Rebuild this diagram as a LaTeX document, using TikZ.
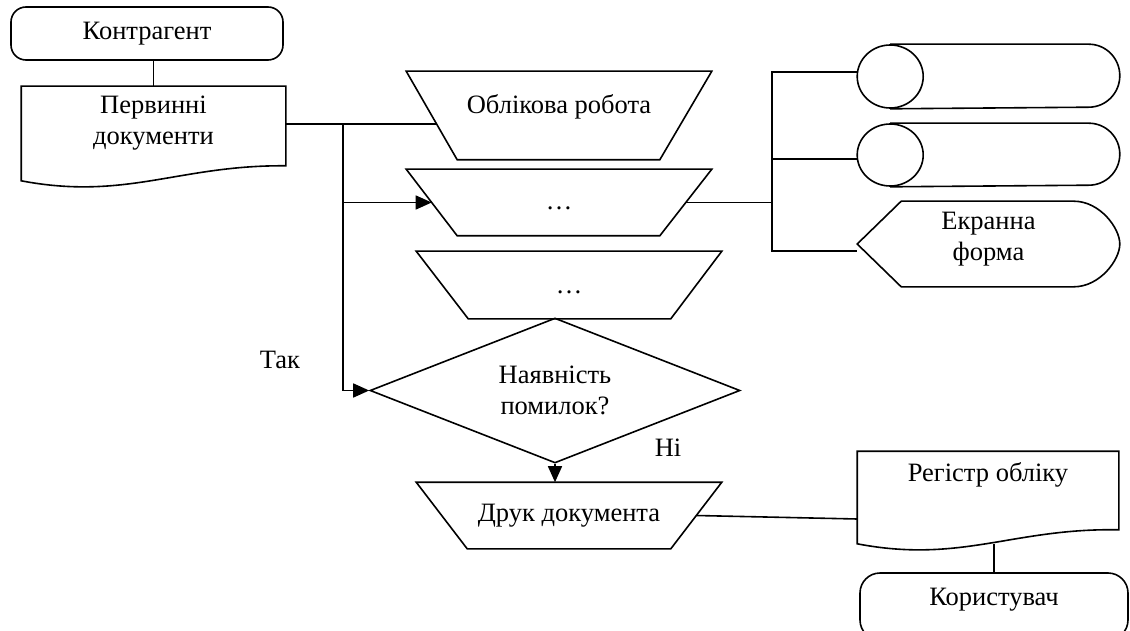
\documentclass[tikz,border=0pt]{standalone}
\usepackage{fontspec}
\setmainfont{Liberation Serif}
\usetikzlibrary{shapes.geometric,arrows.meta}

\begin{document}
\begin{tikzpicture}[x=1pt,y=-1pt,line width=1.6pt,font=\fontsize{26.5}{31}\selectfont]
	\tikzstyle{term}=[rectangle, rounded corners=15pt, draw]
	\tikzstyle{blank}=[rectangle, inner sep=0pt]
	\tikzstyle{manual}=[rectangle, inner sep=0pt, minimum width=304pt]
	\tikzstyle{decision}=[diamond, draw, minimum width=370pt, minimum height=145pt, shape aspect=2.55, inner sep=0pt, align=center]
	\tikzstyle{connect}=[-{Triangle[length=16pt,width=14pt]}]
	\useasboundingbox (0,0) rectangle (1130,631);
	\clip (0,0) rectangle (1130,631);
	\node[term, minimum width=272pt, minimum height=53pt] (kg) at (147,33.5) {Контрагент};
	\node[blank, minimum width=263pt, minimum height=93pt] (pd) at (153.5,133.5) [label={[align=center, yshift=10pt]center:Первинні\\документи}] { };
	\node[manual, minimum height=87pt] (t1) at (559,115.5) [label={[yshift=8.5pt]center:Облікова робота}] { };
	\node[manual, minimum height=65pt] (t2) at (559,202.5) [label={[yshift=-6pt]center:\dots}] { };
	\node[manual, minimum height=66pt] (t3) at (569,285) [label={[yshift=-7pt]center:\dots}] { };
	\node[decision] (dm) at (555,390.5) {Наявність\\помилок?};
	\node[manual, minimum height=65pt] (dr) at (569,515.5) {Друк документа};
	\node[blank, minimum width=261pt, minimum height=63pt] (c1) at (988.5,76.5) { };
	\node[blank, minimum width=261pt, minimum height=62pt] (c2) at (988.5,155) { };
	\node[blank, minimum width=261pt, minimum height=84pt] (sc) at (988.5,244) [label={[align=center, yshift=5pt]center:Екранна\\форма}] { };
	\node[blank, minimum width=260pt, minimum height=91pt] (rg) at (988,497.5) [label={[yshift=23pt]center:Регістр обліку}] { };
	\node[term, rounded corners=20pt, minimum width=268pt, minimum height=67pt] (ku) at (994,606.5) [label={[yshift=7pt]center:Користувач}] { };
	\node (yes) at (280,360) {Так};
	\node (no) at (668,448) {Ні};
	% manual operations
	\draw (t1.north west) -- (t1.north east) -- ([xshift=-52pt]t1.south east) -- ([xshift=51pt]t1.south west) -- cycle;
	\draw (t2.north west) -- (t2.north east) -- ([xshift=-52pt]t2.south east) -- ([xshift=51pt]t2.south west) -- cycle;
	\draw (t3.north west) -- (t3.north east) -- ([xshift=-51pt]t3.south east) -- ([xshift=52pt]t3.south west) -- cycle;
	\draw (dr.north west) -- (dr.north east) -- ([xshift=-51pt]dr.south east) -- ([xshift=51pt]dr.south west) -- cycle;
	% document shapes
	\draw (pd.south west) -- (pd.north west) -- (pd.north east) -- ([yshift=15pt]pd.south east) .. controls ([xshift=158pt,yshift=16pt]pd.south west) and ([xshift=105pt,yshift=-20pt]pd.south west) .. (pd.south west) -- cycle;
	\draw (rg.south west) -- (rg.north west) -- (rg.north east) -- ([yshift=14pt]rg.south east) .. controls ([xshift=156pt,yshift=16pt]rg.south west) and ([xshift=104pt,yshift=-20pt]rg.south west) .. (rg.south west) -- cycle;
	% storage drums
	\draw ([xshift=33pt]c1.west) ellipse [x radius=33pt, y radius=31.5pt];
	\draw ([xshift=33pt]c1.north west) -- ([xshift=-31pt]c1.north east) arc[start angle=90, end angle=-90, x radius=31pt, y radius=31.5pt] -- ([xshift=33pt]c1.south west);
	\draw ([xshift=33pt]c2.west) ellipse [x radius=33pt, y radius=31pt];
	\draw ([xshift=33pt]c2.north west) -- ([xshift=-31pt]c2.north east) arc[start angle=90, end angle=-90, x radius=31pt, y radius=31pt] -- ([xshift=33pt]c2.south west);
	% display
	\draw (sc.west) -- ([xshift=44pt]sc.north west) -- ([xshift=-46pt]sc.north east) .. controls ([xshift=-20pt]sc.north east) and ([yshift=16pt]sc.east) .. (sc.east) .. controls ([yshift=-16pt]sc.east) and ([xshift=-20pt]sc.south east) .. ([xshift=-46pt]sc.south east) -- ([xshift=44pt]sc.south west) -- cycle;
	% connectors
	\coordinate (split) at (343,124);
	\coordinate (join) at (772,202.5);
	\coordinate (t1in) at ([xshift=30pt]t1.west);
	\coordinate (t2in) at ([xshift=25.5pt]t2.west);
	\coordinate (t2out) at ([xshift=-26pt]t2.east);
	\coordinate (drout) at ([xshift=-25.5pt]dr.east);
	\coordinate (c1in) at ([yshift=4.5pt]c1.west);
	\coordinate (c2in) at ([yshift=-4pt]c2.west);
	\coordinate (scin) at ([yshift=-7pt]sc.west);
	\draw (pd.north) -- (pd.north |- kg.south);
	\draw (pd.east |- split) -- (split -| t1in);
	\draw[connect] (split) |- (t2in);
	\draw[connect] (split) |- (dm.west);
	\draw[connect] (dm.south) -- (dm.south |- dr.north);
	\draw (drout) -- ([yshift=-21.5pt]rg.west);
	\draw (ku.north) -- (ku.north |- rg.south);
	\draw (t2out) -- (join);
	\draw (c1in) -| (join) |- (scin);
	\draw (c2in) -- (c2in -| join);
\end{tikzpicture}
\end{document}
